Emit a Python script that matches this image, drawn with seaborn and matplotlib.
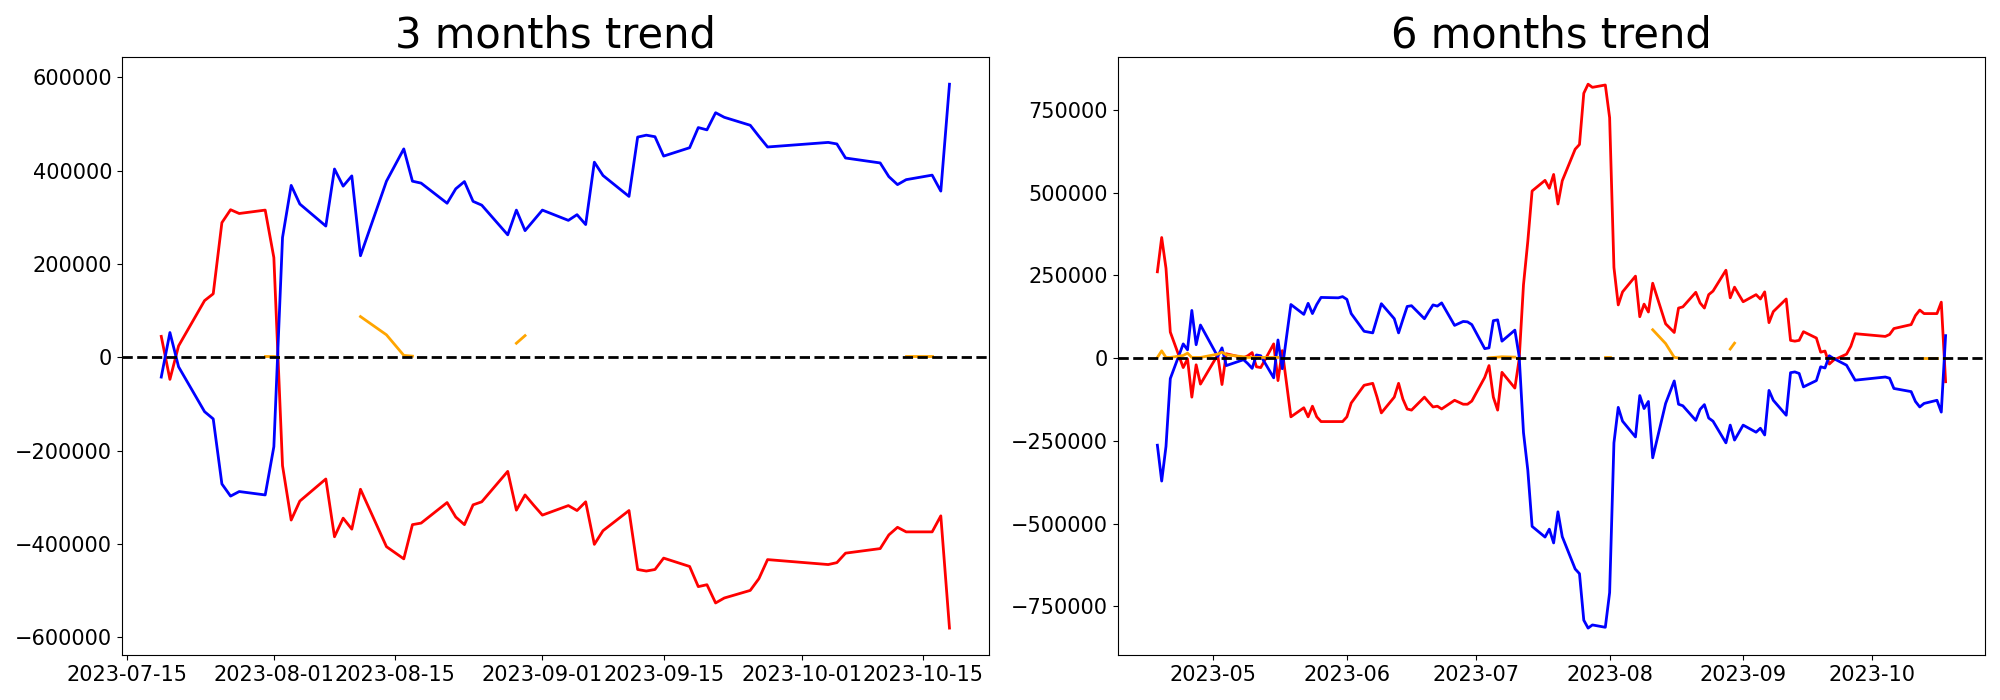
import numpy as np
import pandas as pd
import matplotlib
matplotlib.use("Agg")
import matplotlib.pyplot as plt
import seaborn as sns

# Korean exchange trading calendar (holidays skipped)
krx_holidays = ["2023-05-01", "2023-05-05", "2023-05-29", "2023-06-06", "2023-08-15",
                "2023-09-28", "2023-09-29", "2023-10-02", "2023-10-03", "2023-10-09"]
dates_6m = pd.bdate_range("2023-04-18", "2023-10-18", freq="C", holidays=krx_holidays)
dates_3m = pd.bdate_range("2023-07-19", "2023-10-18", freq="C", holidays=krx_holidays)

nan = np.nan

# ---------------- 3 months ----------------
blue_3m = [
    -42400, 53000, -20400,
    -116500, -132000, -271300, -297400, -287600,
    -294900, -191500, 256600, 368200, 328300,
    281100, 403300, 366600, 388600, 217500,
    377200, 446400, 377200, 373100,
    330000, 360900, 376400, 334000, 325900,
    262300, 315300, 271300, 293300, 315300,
    293300, 305500, 284300, 418000, 389400,
    344600, 471700, 475800, 472500, 431000,
    448900, 492100, 487200, 523900, 514100,
    497000, 473300, 450500,
    460300, 457000, 426900,
    416300, 387000, 369900, 380500,
    390200, 356000, 585000,
]
red_3m = [
    44800, -47300, 24400,
    121400, 136000, 288400, 316100, 308000,
    315300, 213500, -232200, -348700, -308000,
    -260700, -384500, -344600, -368200, -282700,
    -405700, -431800, -358500, -355200,
    -311200, -342200, -358500, -316100, -309600,
    -244400, -327500, -294900, -317000, -338100,
    -317700, -328300, -309600, -400800, -371500,
    -328300, -454600, -457900, -454600, -430200,
    -448100, -491300, -487200, -526300, -515700,
    -499400, -474200, -433400,
    -444000, -439900, -419600,
    -409800, -380500, -364200, -374000,
    -374000, -339700, -580100,
]
orange_3m = [
    nan, nan, nan,
    nan, nan, nan, nan, nan,
    2400, 2400, nan, nan, nan,
    nan, nan, nan, nan, 87200,
    48100, 4100, 2400, nan,
    nan, nan, nan, nan, nan,
    nan, 30100, 46400, nan, nan,
    nan, nan, nan, nan, nan,
    nan, nan, nan, nan, nan,
    nan, nan, nan, nan, nan,
    nan, nan, nan,
    nan, nan, nan,
    nan, nan, nan, 2000,
    2000, nan, nan,
]

# ---------------- 6 months ----------------
blue_6m = [
    -263100, -371400, -266700, -61900,
    42900, 25000, 144000, 40500, 100000,
    5000, 31000, -22600,
    -4800, -16700, -31000, 9500, 7100,
    -59500, 54800, -32100, 65500, 161900,
    132100, 165500, 134500, 161900, 183300,
    182100, 185700, 177400, 134500,
    81000, 76200, 120200, 164300,
    119000, 76200, 116700, 156000, 158300,
    119000, 140500, 160700, 157100, 166700,
    98800, 104800, 110700, 109500, 101200,
    28600, 31000, 113100, 115500, 51200,
    84500, 5000, -225000, -338100, -508300,
    -540500, -516700, -558300, -464300, -539300,
    -636900, -651200, -791700, -815500, -806000,
    -813100, -708300, -256000, -148800, -190500,
    -238100, -113100, -152400, -131000, -301200,
    -136900, -69000, -139300, -144000,
    -188100, -154800, -140500, -181000, -190500,
    -256000, -202400, -247600, -225000, -202400,
    -223800, -211900, -232100, -97600, -127400,
    -172600, -44000, -41700, -46400, -86900,
    -67900, -26200, -29800, 7100, -1200,
    -21400, -44000, -66700,
    -57100, -60700, -91700,
    -101200, -131000, -147600, -136900,
    -127400, -163100, 67900,
]
red_6m = [
    260700, 364300, 271400, 78600,
    -28600, -2400, -117900, -20200, -78600,
    9500, -79800, 13100,
    1200, 7100, 16700, -26200, -28600,
    42900, -67900, 22600, -77400, -177400,
    -150000, -177400, -145200, -177400, -191700,
    -191700, -191700, -177400, -135700,
    -82100, -76200, -117900, -165500,
    -117900, -76200, -123800, -153600, -157100,
    -117900, -133300, -147600, -145200, -153600,
    -127400, -133300, -139300, -139300, -129800,
    -58300, -22600, -117900, -157100, -42900,
    -90500, -3000, 221400, 352400, 504800,
    536900, 513100, 554800, 465500, 535700,
    631000, 645300, 800000, 827400, 817900,
    825000, 726200, 273800, 160700, 200000,
    247600, 125000, 163100, 139300, 226200,
    103600, 77400, 151200, 154800,
    198800, 166700, 151200, 191700, 202400,
    265500, 182100, 214300, 191700, 170200,
    191700, 178600, 200000, 107100, 140500,
    178600, 53600, 51200, 53600, 79800,
    60700, 17900, 21400, -17900, -6000,
    11900, 35700, 73800,
    65500, 71400, 89300,
    101200, 128600, 145200, 134500,
    134500, 169000, -71400,
]
orange_6m = [
    2000, 22000, 2000, 2000,
    8000, 15000, 2000, 2000, 2000,
    12000, 18000, 10000,
    4000, 2000, 2000, 2000, 2000,
    2000, 2000, nan, nan, nan,
    nan, nan, nan, nan, nan,
    nan, nan, nan, nan,
    nan, nan, nan, nan,
    nan, nan, nan, nan, nan,
    nan, nan, nan, nan, nan,
    nan, nan, nan, nan, nan,
    nan, 1000, 2000, 3000, 4000,
    3000, nan, nan, nan, nan,
    nan, nan, nan, nan, nan,
    nan, nan, nan, nan, nan,
    2000, 2000, nan, nan, nan,
    nan, nan, nan, nan, 85700,
    44000, 2400, 500, nan,
    nan, nan, nan, nan, nan,
    nan, 27400, 45200, nan, nan,
    nan, nan, nan, nan, nan,
    nan, nan, nan, nan, nan,
    nan, nan, nan, nan, nan,
    nan, nan, nan,
    nan, nan, nan,
    nan, nan, nan, 1000,
    1000, nan, nan,
]

titles = ["3 months trend", "6 months trend"]
panels = [
    (dates_3m, red_3m, blue_3m, orange_3m),
    (dates_6m, red_6m, blue_6m, orange_6m),
]


def draw_segments(ax, x, y, color):
    """Draw a series with gaps where values are missing."""
    df = pd.DataFrame({"x": x, "y": y})
    df["run"] = df["y"].isna().cumsum()
    df = df.dropna()
    for _, seg in df.groupby("run"):
        if len(seg) > 1:
            sns.lineplot(data=seg, x="x", y="y", ax=ax, color=color, lw=2,
                         estimator=None, errorbar=None, legend=False)


fig, axes = plt.subplots(1, 2, figsize=(20, 7), dpi=100)
for ax, title, (d, r, b, o) in zip(axes, titles, panels):
    assert len(d) == len(r) == len(b) == len(o), (len(d), len(r), len(b), len(o))
    draw_segments(ax, d, r, "red")
    draw_segments(ax, d, b, "blue")
    draw_segments(ax, d, o, "orange")
    ax.axhline(0, color="black", linestyle="--", lw=2)
    ax.set_title(title, fontsize=30)
    ax.set_xlabel("")
    ax.set_ylabel("")
    ax.tick_params(labelsize=15)

fig.tight_layout()
fig.savefig("out.png", dpi=100)
